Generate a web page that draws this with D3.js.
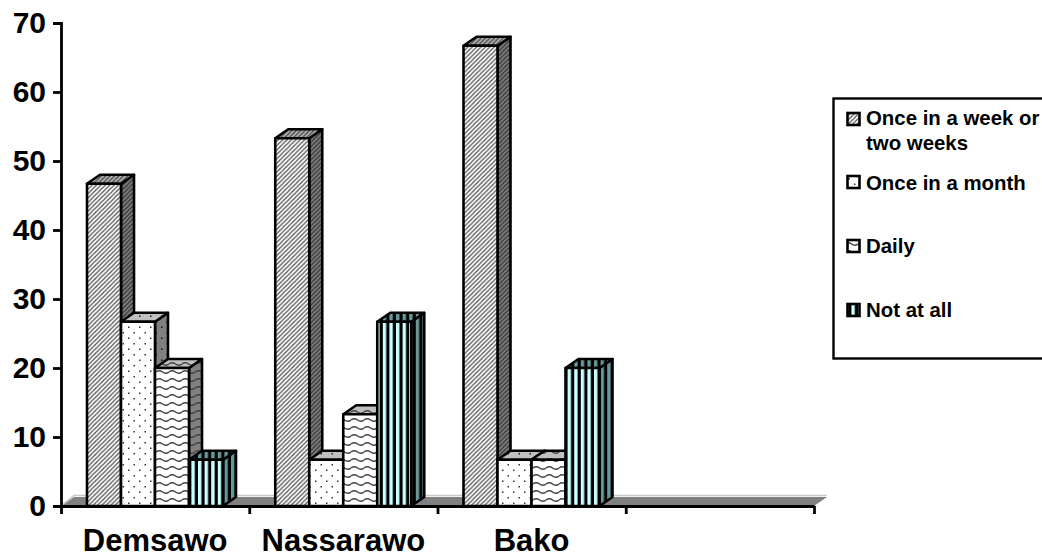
<!DOCTYPE html>
<html>
<head>
<meta charset="utf-8">
<script src="https://cdnjs.cloudflare.com/ajax/libs/d3/7.8.5/d3.min.js"></script>
<style>
html,body{margin:0;padding:0;background:#fff;overflow:hidden}
text{font-family:"Liberation Sans",Arial,sans-serif;font-weight:bold;fill:#000}
</style>
</head>
<body>
<svg id="chart" width="1042" height="557"></svg>
<script>
const places = ["Demsawo", "Nassarawo", "Bako"];
const responses = ["Once in a week or two weeks", "Once in a month", "Daily", "Not at all"];
const weeklyValues = [46.7, 53.3, 66.7];
const monthlyValues = [26.7, 6.7, 6.7];
const dailyValues = [20, 13.3, 6.7];
const neverValues = [6.7, 26.7, 20];
const yTicks = [0, 10, 20, 30, 40, 50, 60, 70];
const seriesValues = [weeklyValues, monthlyValues, dailyValues, neverValues];

const svg = d3.select("#chart");
const defs = svg.append("defs");

// Depth of the 3-D extrusion
const dx = 13, dy = -9;

const y = d3.scaleLinear().domain([0, 70]).range([506, 23]);
// A fourth, empty slot leaves blank room on the right of the axis
const x = d3.scaleBand().domain([...places, ""]).range([61, 814]);
const inner = d3.scaleBand().domain(responses).range([26, 162]);

// Fill patterns: one set for front faces, one for tops, one for sides
function hatch(id, bg, ink) {
  const p = defs.append("pattern").attr("id", id).attr("width", 4.4).attr("height", 4.4)
    .attr("patternUnits", "userSpaceOnUse");
  p.append("rect").attr("width", 4.4).attr("height", 4.4).attr("fill", bg);
  p.append("path").attr("d", "M-1,1L1,-1M0,4.4L4.4,0M3.4,5.4L5.4,3.4").attr("stroke", ink).attr("stroke-width", 1.3);
}
function dots(id, bg, ink) {
  const p = defs.append("pattern").attr("id", id).attr("width", 11).attr("height", 11)
    .attr("patternUnits", "userSpaceOnUse");
  p.append("rect").attr("width", 11).attr("height", 11).attr("fill", bg);
  [[1.5, 2], [7, 7.5]].forEach(([a, b]) =>
    p.append("rect").attr("x", a).attr("y", b).attr("width", 1.5).attr("height", 1.5).attr("fill", ink));
}
function wave(id, bg, ink) {
  const p = defs.append("pattern").attr("id", id).attr("width", 13).attr("height", 8)
    .attr("patternUnits", "userSpaceOnUse");
  p.append("rect").attr("width", 13).attr("height", 8).attr("fill", bg);
  p.append("path").attr("d", "M0,4Q3.2,1.6 6.5,4T13,4").attr("fill", "none").attr("stroke", ink).attr("stroke-width", 1.5);
}
function stripes(id, bg, ink) {
  const p = defs.append("pattern").attr("id", id).attr("width", 6.6).attr("height", 6)
    .attr("patternUnits", "userSpaceOnUse");
  p.append("rect").attr("width", 6.6).attr("height", 6).attr("fill", bg);
  p.append("rect").attr("x", 3.4).attr("width", 3.2).attr("height", 6).attr("fill", ink);
}
hatch("weekFront", "#fff", "#555"); hatch("weekTop", "#b4b4b4", "#444"); hatch("weekSide", "#808080", "#333");
dots("monthFront", "#fff", "#333"); dots("monthTop", "#c0c0c0", "#222"); dots("monthSide", "#808080", "#111");
wave("dayFront", "#fff", "#444"); wave("dayTop", "#c0c0c0", "#444"); wave("daySide", "#808080", "#444");
stripes("neverFront", "#ccffff", "#000"); stripes("neverTop", "#669999", "#000"); stripes("neverSide", "#669999", "#000");
const styleKeys = ["week", "month", "day", "never"];

// Chart floor: pale back edge, then a grey slab sitting on the axis
const floorLeft = x.range()[0], floorRight = x.range()[1];
svg.append("path")
  .attr("d", `M${floorLeft},506L${floorLeft + dx},${497}L${floorRight + dx},${497}L${floorRight},506Z`)
  .attr("fill", "#808080");
svg.append("path")
  .attr("d", `M${floorLeft},506L${floorLeft + dx},${495.5}L${floorRight + dx},${495.5}`)
  .attr("fill", "none").attr("stroke", "#c8c8c8").attr("stroke-width", 1.5);

// Bars are painted left to right so each front hides its neighbour's side
places.forEach((place, i) => {
  responses.forEach((resp, s) => {
    const left = x(place) + inner(resp), w = inner.bandwidth();
    const top = y(seriesValues[s][i]), base = y(0), key = styleKeys[s];
    const g = svg.append("g").attr("stroke", "#000").attr("stroke-width", 2.6).attr("stroke-linejoin", "round");
    g.append("path").attr("fill", `url(#${key}Side)`)
      .attr("d", `M${left + w},${top}L${left + w + dx},${top + dy}L${left + w + dx},${base + dy}L${left + w},${base}Z`);
    g.append("path").attr("fill", `url(#${key}Top)`)
      .attr("d", `M${left},${top}L${left + dx},${top + dy}L${left + w + dx},${top + dy}L${left + w},${top}Z`);
    g.append("rect").attr("x", left).attr("y", top).attr("width", w).attr("height", base - top)
      .attr("fill", `url(#${key}Front)`);
  });
});

// Axes
const yAxis = svg.append("g").attr("transform", `translate(${floorLeft},0)`)
  .call(d3.axisLeft(y).tickValues(yTicks).tickSize(8).tickSizeOuter(8).tickPadding(7));
const edges = d3.scaleLinear().domain([0, 4]).range([61, 814]);
const xAxis = svg.append("g").attr("transform", "translate(0,506)")
  .call(d3.axisBottom(edges).tickValues([0, 1, 2, 3, 4]).tickSize(8).tickSizeOuter(0).tickFormat(""));
[yAxis, xAxis].forEach(a => {
  a.selectAll("path,line").attr("stroke", "#000").attr("stroke-width", 2.8);
});
yAxis.selectAll("text").attr("font-size", 30).attr("font-family", null).attr("fill", "#000");

// Category labels centred under their groups
svg.selectAll(".place").data(places).enter().append("text").attr("class", "place")
  .attr("x", d => x(d) + x.bandwidth() / 2)
  .attr("y", 551).attr("text-anchor", "middle").attr("font-size", 31)
  .text(d => d);

// Legend
svg.append("rect").attr("x", 833.5).attr("y", 98.5).attr("width", 220).attr("height", 260)
  .attr("fill", "#fff").attr("stroke", "#000").attr("stroke-width", 2.4);
const legendRows = [
  { lines: ["Once in a week or", "two weeks"], swatch: 113, base: [125, 150] },
  { lines: ["Once in a month"], swatch: 176, base: [190] },
  { lines: ["Daily"], swatch: 240, base: [253] },
  { lines: ["Not at all"], swatch: 304, base: [317] }
];
legendRows.forEach((row, s) => {
  svg.append("rect").attr("x", 847.5).attr("y", row.swatch).attr("width", 12).attr("height", 12)
    .attr("fill", `url(#${styleKeys[s]}Front)`).attr("stroke", "#000").attr("stroke-width", 2.6);
  row.lines.forEach((t, j) => {
    svg.append("text").attr("x", 866).attr("y", row.base[j]).attr("font-size", 20.4).text(t);
  });
});
</script>
</body>
</html>
